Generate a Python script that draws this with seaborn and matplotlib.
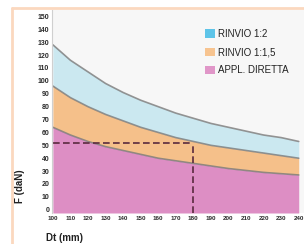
import matplotlib
matplotlib.use("Agg")
import matplotlib.pyplot as plt
import seaborn as sns
import pandas as pd
from matplotlib.patches import Patch
from matplotlib.lines import Line2D

# Data
dt_mm = [100, 110, 120, 130, 140, 150, 160, 170, 180, 190, 200, 210, 220, 230, 240]
appl_diretta = [64, 58, 53, 49, 46, 43, 40, 38, 36, 34, 32, 30.5, 29, 28, 27]
rinvio_1_1_5 = [96, 87, 80, 74, 69, 64, 60, 56, 53, 50, 48, 46, 44, 42, 40]
rinvio_1_2 = [128, 116, 107, 98, 91, 85, 80, 75, 71, 67, 64, 61, 58, 56, 53]
y_ticks = list(range(0, 151, 10))
x_ticks = list(range(100, 241, 10))
marker_dt = 180
marker_f = 52

series_names = ["RINVIO 1:2", "RINVIO 1:1,5", "APPL. DIRETTA"]
legend_colors = ["#5ec4e8", "#f7c490", "#e096c8"]
fill_colors = ["#cbe8f0", "#f5c08a", "#dd8ec4"]

df = pd.DataFrame({"Dt": dt_mm, "APPL. DIRETTA": appl_diretta,
                   "RINVIO 1:1,5": rinvio_1_1_5, "RINVIO 1:2": rinvio_1_2})

sns.set_style("white")
plt.rcParams['font.family'] = ['Liberation Sans Narrow', 'Liberation Sans', 'DejaVu Sans']

fig = plt.figure(figsize=(3.04, 2.44), dpi=100)
fig.patch.set_facecolor("white")
ax = fig.add_axes([52 / 304, 31 / 244, 252 / 304, 203 / 244])
ax.set_facecolor("#f7f7f7")

ax.fill_between(df["Dt"], df["RINVIO 1:1,5"], df["RINVIO 1:2"], color=fill_colors[0], lw=0)
ax.fill_between(df["Dt"], df["APPL. DIRETTA"], df["RINVIO 1:1,5"], color=fill_colors[1], lw=0)
ax.fill_between(df["Dt"], -2.5, df["APPL. DIRETTA"], color=fill_colors[2], lw=0)
for col in ["RINVIO 1:2", "RINVIO 1:1,5", "APPL. DIRETTA"]:
    sns.lineplot(data=df, x="Dt", y=col, ax=ax, color="#7a7a7a", lw=1.2, alpha=0.8)

# dashed marker lines
ax.plot([dt_mm[0], marker_dt], [marker_f, marker_f], ls=(0, (4, 2)), color="#5a2a3e", lw=1.2)
ax.plot([marker_dt, marker_dt], [-2.5, marker_f], ls=(0, (4, 2)), color="#5a2a3e", lw=1.2)

ax.set_xlim(99.5, 243)
ax.set_ylim(-2.5, 155)
ax.set_xticks(x_ticks)
ax.set_xticklabels([str(v) for v in x_ticks], fontsize=4.5, fontweight="bold", color="#2a2a2a")
ax.set_yticks(y_ticks)
ax.set_yticklabels([str(v) for v in y_ticks], fontsize=5, fontweight="bold", color="#2a2a2a")
ax.tick_params(axis="both", length=0, pad=2)
ax.set_xlabel("")
ax.set_ylabel("")
for s in ["top", "right", "bottom"]:
    ax.spines[s].set_visible(False)
ax.spines["left"].set_color("#d0d0d0")
ax.spines["left"].set_linewidth(0.8)

fig.text(20 / 304, 1 - 203 / 244, "F (daN)", rotation=90, fontsize=7, fontweight="bold",
         color="#222222", ha="center", va="bottom")
fig.text(46 / 304, 1 - 243 / 244, "Dt (mm)", fontsize=7, fontweight="bold",
         color="#222222", ha="left", va="bottom")

handles = [Patch(facecolor=c, edgecolor="none") for c in legend_colors]
leg = ax.legend(handles, series_names, loc="upper left", bbox_to_anchor=(149 / 252, 1 - 15 / 203),
                frameon=False, fontsize=7, handlelength=1.0, handleheight=0.9,
                handletextpad=0.4, labelspacing=0.85, borderaxespad=0)
for t in leg.get_texts():
    t.set_color("#222222")

# peach frame
fig.add_artist(Line2D([12 / 304, 12 / 304], [0, 1 - 8 / 244], color="#fbd8bf", lw=2))
fig.add_artist(Line2D([12 / 304, 1], [1 - 8 / 244, 1 - 8 / 244], color="#fbd8bf", lw=2))

fig.savefig("out.png", dpi=100)
